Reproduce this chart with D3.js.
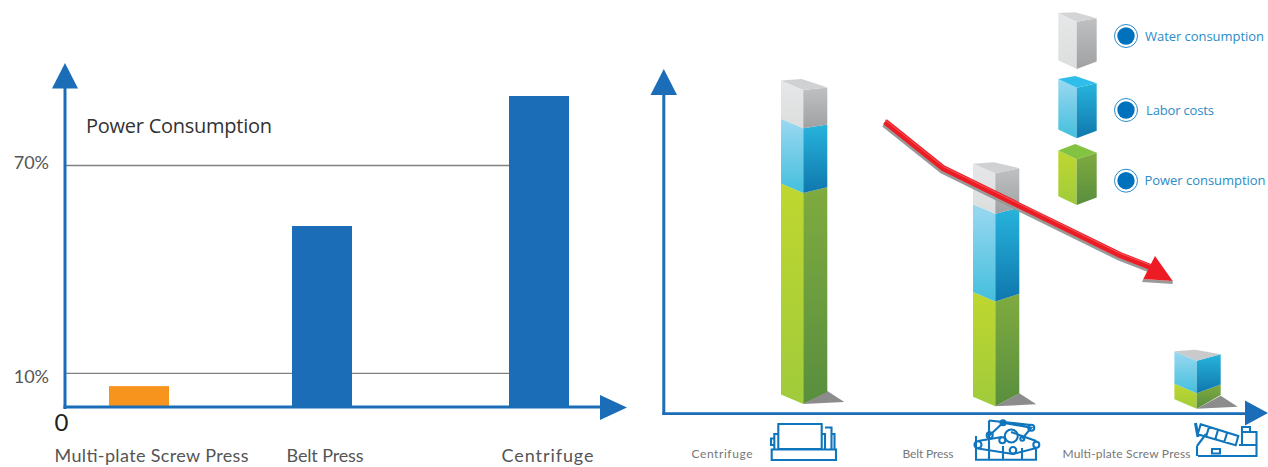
<!DOCTYPE html>
<html>
<head>
<meta charset="utf-8">
<script src="https://cdn.jsdelivr.net/npm/d3@7"></script>
<style>
html, body { margin: 0; padding: 0; background: #fff; overflow: hidden; }
svg { display: block; }
</style>
</head>
<body>
<div id="chart"></div>
<script>
// left chart data
var powerCategories = ["Multi-plate Screw Press", "Belt Press", "Centrifuge"];
var powerValues = [6.2, 52.4, 89.9];
var powerTicks = [10, 70];

// right chart data, stacked from the bottom
var costCategories = ["Centrifuge", "Belt Press", "Multi-plate Screw Press"];
var costPower = [67.2, 33.4, 4.9];
var costLabor = [20.6, 27.9, 10.4];
var costWater = [12.2, 12.9, 0];
var legendLabels = ["Water consumption", "Labor costs", "Power consumption"];

// layout
var width = 1268, height = 467;
var blue = "#1b6db7", labelGray = "#555";
var labelFont = "Lato, sans-serif", noteFont = "'Open Sans', sans-serif";

var svg = d3.select("#chart").append("svg")
    .attr("width", width)
    .attr("height", height);

var defs = svg.append("defs");
function gradient(id, c0, c1) {
    var g = defs.append("linearGradient").attr("id", id)
        .attr("x1", 0).attr("y1", 0).attr("x2", 0).attr("y2", 1);
    g.append("stop").attr("offset", "0%").attr("stop-color", c0);
    g.append("stop").attr("offset", "100%").attr("stop-color", c1);
}
gradient("waterL", "#e6e7e8", "#dcdddd");
gradient("waterR", "#bfc0c2", "#a0a1a2");
gradient("laborL", "#9bd8f1", "#43bfdd");
gradient("laborR", "#27b4dc", "#0f77ad");
gradient("powerL", "#bfd72f", "#a0cb3b");
gradient("powerR", "#7fab3f", "#588e3e");

function arrow(g, points, fill) {
    g.append("polygon")
        .attr("points", points.join(" "))
        .attr("fill", fill);
}

// ---- left chart ----
var left = svg.append("g");
var yLeft = d3.scaleLinear().domain([0, 100]).range([407.6, 61]);
var xLeft = d3.scaleOrdinal().domain(powerCategories).range([109, 292, 509]);
var xLeftLabel = d3.scaleOrdinal().domain(powerCategories).range([151, 324.5, 547]);
var barWidth = 60;

var yAxisLeft = d3.axisLeft(yLeft)
    .tickValues(powerTicks)
    .tickSize(-444.5)
    .tickFormat(function(d){ return d + "%"; });
var yg = left.append("g").attr("transform", "translate(65,0)").call(yAxisLeft);
yg.select(".domain").remove();
yg.selectAll(".tick line").attr("stroke", "#808080").attr("stroke-width", 1.3);
yg.selectAll(".tick text")
    .attr("x", -16)
    .attr("dy", function(d){ return d == 70 ? "3.5" : "9.5"; })
    .attr("fill", labelGray)
    .style("font-family", labelFont)
    .style("font-size", "18px");

left.selectAll("rect.bar")
    .data(powerValues)
    .enter()
    .append("rect")
    .attr("class", "bar")
    .attr("x", function(d, i){ return xLeft(powerCategories[i]); })
    .attr("y", function(d){ return yLeft(d); })
    .attr("width", barWidth)
    .attr("height", function(d){ return yLeft(0) - yLeft(d); })
    .attr("fill", function(d, i){ return i == 0 ? "#f7941d" : blue; });

left.append("line").attr("x1", 65).attr("x2", 65).attr("y1", 409).attr("y2", 85)
    .attr("stroke", blue).attr("stroke-width", 3);
left.append("line").attr("x1", 63.5).attr("x2", 605).attr("y1", 407).attr("y2", 407)
    .attr("stroke", blue).attr("stroke-width", 3);
arrow(left, ["65,63", "78,88.5", "52,88.5"], blue);
arrow(left, ["627,407.5", "600,395", "600,420"], blue);

var xg = left.append("g").attr("transform", "translate(0,407)")
    .call(d3.axisBottom(xLeftLabel).tickSize(0));
xg.select(".domain").remove();
xg.selectAll(".tick text")
    .attr("y", 55)
    .attr("dy", 0)
    .attr("fill", labelGray)
    .style("font-family", labelFont)
    .style("font-size", "18px")
    .attr("textLength", function(d){ return d == "Belt Press" ? 77 : d == "Centrifuge" ? 92 : 194; });

left.append("text").attr("x", 54.5).attr("y", 430.5).text("0")
    .attr("fill", "#222").style("font-family", labelFont).style("font-size", "24px");

left.append("text").attr("x", 86).attr("y", 133).text("Power Consumption")
    .attr("fill", "#333").attr("textLength", 186)
    .style("font-family", noteFont).style("font-size", "20px");

// ---- right chart ----
var right = svg.append("g");
var xRight = d3.scaleOrdinal().domain(costCategories).range([803.3, 995.3, 1196.7]);
var xRightLabel = d3.scaleOrdinal().domain(costCategories).range([721.5, 927.5, 1126]);
var baseRight = d3.scaleOrdinal().domain(costCategories).range([404, 406.3, 408.7]);
var hRight = d3.scaleLinear().domain([0, 100]).range([0, 314]);
// right edge of the prism drops further the lower it sits
var rightDrop = d3.scaleLinear().domain([90, 200, 300, 385, 405]).range([2.5, 6, 7.5, 6, 12.5]);

function prism(g, xm, wl, wr, yTop, yBot, left, right, dropL, dropR) {
    g.append("polygon")
        .attr("points", [[xm - wl, yTop - dropL], [xm, yTop], [xm, yBot], [xm - wl, yBot - dropL]].join(" "))
        .attr("fill", left);
    g.append("polygon")
        .attr("points", [[xm, yTop], [xm + wr, yTop - dropR(yTop)], [xm + wr, yBot - dropR(yBot)], [xm, yBot]].join(" "))
        .attr("fill", right);
}
function lid(g, xm, wl, wr, y, fill, dropL, dropR, back) {
    g.append("polygon")
        .attr("points", [[xm, y], [xm - wl, y - dropL], [xm - 1.5, y - back], [xm + wr, y - dropR(y)]].join(" "))
        .attr("fill", fill);
}

var stacks = right.append("g");
costCategories.forEach(function(cat, i){
    var xm = xRight(cat), base = baseRight(cat);
    var y1 = base - hRight(costPower[i]);
    var y2 = y1 - hRight(costLabor[i]);
    var y3 = y2 - hRight(costWater[i]);
    var wl = 22.3, wr = 24;
    // ground shadow
    arrow(stacks, [[xm, base], [xm + wr, base - 13], [xm + wr + 17, base - 2]], "#8c8c8c");
    prism(stacks, xm, wl, wr, y1, base, "url(#powerL)", "url(#powerR)", 9.5, rightDrop);
    prism(stacks, xm, wl, wr, y2, y1, "url(#laborL)", "url(#laborR)", 9.5, rightDrop);
    if (costWater[i] > 0) {
        prism(stacks, xm, wl, wr, y3, y2, "url(#waterL)", "url(#waterR)", 9.5, rightDrop);
    }
    lid(stacks, xm, wl, wr, y3, costWater[i] > 0 ? "#d0d1d2" : "#c9cacb", 9.5, rightDrop, 11);
});

right.append("line").attr("x1", 663.8).attr("x2", 663.8).attr("y1", 415).attr("y2", 90)
    .attr("stroke", blue).attr("stroke-width", 3);
right.append("line").attr("x1", 662.3).attr("x2", 1250).attr("y1", 413.6).attr("y2", 413.6)
    .attr("stroke", blue).attr("stroke-width", 2.8);
arrow(right, ["663.8,69", "677,95", "650.5,95"], blue);
arrow(right, ["1268,413", "1245,400.5", "1245,425.5"], blue);

var xg2 = right.append("g").attr("transform", "translate(0,413)")
    .call(d3.axisBottom(xRightLabel).tickSize(0));
xg2.select(".domain").remove();
xg2.selectAll(".tick text")
    .attr("y", 45)
    .attr("dy", 0)
    .attr("fill", "#777")
    .style("font-family", labelFont)
    .style("font-size", "12px")
    .attr("textLength", function(d){ return d == "Belt Press" ? 51 : d == "Centrifuge" ? 61 : 128; });

// machine pictograms under the axis
var icons = right.append("g").attr("fill", "none").attr("stroke", "#0f75bc").attr("stroke-width", 2.1);
var iconPaths = [
    // centrifuge
    "M771.7 449.5H836V460H771.7Z M778.3 424H821.7V449H778.3Z M778.3 434H774.3V449 M774.3 438.5H771V445H774.3 M821.7 434H825V449 M825 427.5H831.5V449 M831.5 434H834.5V449",
    // belt press
    "M976 436V459.7H1036V448 M989 420.5V459.7 M989 420.5L1031 425 M1003 422.7L989.7 435.3 M1003 422.7L1031.3 427.7L1022.3 438.7 M978 441L1002 437 M978 448.5L1013 454 M1013 454L1036.3 448 M1036.3 441L1011 432 M1003 459.7V446 M1022 459.7V448",
    // screw press
    "M1200.7 424.3L1238.3 436L1235.7 445.3L1197.7 434.3Z M1209 427L1206 437 M1218 430L1215 440 M1227 433L1224 443 M1197 446L1206 434 M1198 456H1256.5V432H1242V445 M1197 446V456 M1242 432V427L1250 427V432 M1239 445H1256.5 M1212 449H1220V453.5H1212Z"
];
icons.selectAll("path").data(iconPaths).enter().append("path").attr("d", function(d){ return d; });
icons.append("path").attr("d", "M1195.5 423L1198 437").attr("stroke-width", 3);
var iconCircles = [[1011.3, 436, 6.5], [978, 444.7, 3.5], [989.7, 435.3, 3], [1003, 422.7, 2.5], [1031.3, 427.7, 3],
    [1036.3, 444.7, 3], [1013, 450.3, 3.3], [1002.3, 440.3, 3], [1022.3, 438.7, 2]];
icons.selectAll("circle").data(iconCircles).enter().append("circle")
    .attr("cx", function(d){ return d[0]; })
    .attr("cy", function(d){ return d[1]; })
    .attr("r", function(d){ return d[2]; });

// legend
var legendKeys = ["water", "labor", "power"];
var legendLids = ["#d3d4d5", "#2fbde9", "#82c341"];
var legendBack = [9.4, 11.7, 15.3];
var legendTopDrop = [3.4, 4.4, 6.6];
var legendFront = d3.scaleOrdinal().domain(legendLabels).range([[21.7, 69], [87.7, 138.3], [159.3, 205]]);
var legendDotY = d3.scaleOrdinal().domain(legendLabels).range([36, 110, 180.7]);
var legendTextX = d3.scaleOrdinal().domain(legendLabels).range([1145, 1146, 1144.5]);
var legendTextW = d3.scaleOrdinal().domain(legendLabels).range([119, 68, 121]);
var legend = right.append("g");
legendLabels.forEach(function(label, i){
    var f = legendFront(label), key = legendKeys[i];
    var dropR = function(y){ return y == f[0] ? legendTopDrop[i] : 7.5; };
    prism(legend, 1076.7, 18.4, 20, f[0], f[1], "url(#" + key + "L)", "url(#" + key + "R)", 8.7, dropR);
    lid(legend, 1076.7, 18.4, 20, f[0], legendLids[i], 8.7, dropR, legendBack[i]);
    legend.append("circle").attr("cx", 1126).attr("cy", legendDotY(label)).attr("r", 11.5)
        .attr("fill", "#fff").attr("stroke", "#2a8cc8").attr("stroke-width", 1);
    legend.append("circle").attr("cx", 1126).attr("cy", legendDotY(label)).attr("r", 8.7)
        .attr("fill", "#0071bc");
    legend.append("text")
        .attr("x", legendTextX(label))
        .attr("y", legendDotY(label) + 4.5)
        .attr("textLength", legendTextW(label))
        .attr("fill", "#2a8cc8")
        .style("font-family", noteFont)
        .style("font-size", "13px")
        .text(label);
});

// falling trend arrow
var trendLine = [[885, 121.7], [943.3, 168.3], [1120, 255], [1150, 266.7]];
var trendHead = [[1143.3, 279], [1155, 256], [1172.7, 281]];
var line = d3.line();
var trend = svg.append("g");
trend.append("path").attr("d", line(trendLine)).attr("transform", "translate(-1,2.5)")
    .attr("fill", "none").attr("stroke", "#999").attr("stroke-width", 6);
arrow(trend, [[1142, 282], [1172.7, 284], [1172.7, 281], [1143.3, 279]], "#999");
trend.append("path").attr("d", line(trendLine))
    .attr("fill", "none").attr("stroke", "#ed1c24").attr("stroke-width", 6);
trend.append("path").attr("d", line(trendLine)).attr("transform", "translate(0,-1.8)")
    .attr("fill", "none").attr("stroke", "#f2595e").attr("stroke-width", 1);
arrow(trend, trendHead, "#ed1c24");
</script>
</body>
</html>
